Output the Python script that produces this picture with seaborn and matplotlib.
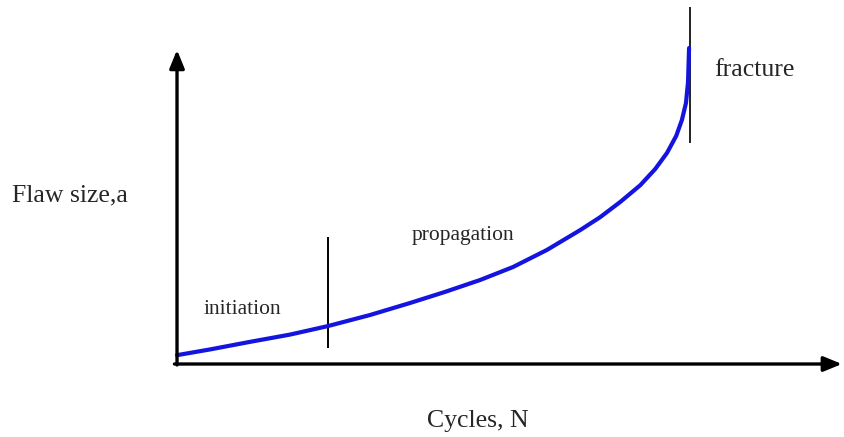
import numpy as np
import pandas as pd
import matplotlib
matplotlib.use("Agg")
import matplotlib.pyplot as plt
import seaborn as sns

# crack growth curve, cycles (normalised so fracture = 1) vs flaw size
cycles = [0.000, 0.064, 0.142, 0.220, 0.294, 0.376, 0.454, 0.522, 0.591,
          0.655, 0.721, 0.786, 0.825, 0.864, 0.903, 0.932, 0.955, 0.973,
          0.984, 0.992, 0.996, 0.998]
flaw_size = [0.028, 0.046, 0.070, 0.093, 0.120, 0.155, 0.193, 0.228, 0.266,
             0.307, 0.361, 0.424, 0.465, 0.513, 0.566, 0.617, 0.668, 0.722,
             0.772, 0.826, 0.892, 1.000]

# stage boundaries
init_end = 0.294
init_span = (0.051, 0.403)
fracture_at = 0.999
fracture_span = (0.699, 1.130)

small_labels = {
    "initiation": (0.051, 0.174),
    "propagation": (0.458, 0.408),
}

sns.set_style("white")
plt.rcParams["font.family"] = ["Liberation Serif", "DejaVu Serif"]

fig = plt.figure(figsize=(8.44, 4.37), dpi=100)
ax = fig.add_axes([0, 0, 1, 1])
ax.set_xlim(-0.345, 1.300)
ax.set_ylim(-0.231, 1.152)
ax.axis("off")

df = pd.DataFrame({"N": cycles, "a": flaw_size})
sns.lineplot(data=df, x="N", y="a", sort=False, estimator=None,
             color="#1414e0", lw=3.0, ax=ax, zorder=3,
             solid_joinstyle="round", solid_capstyle="round")

ax.vlines(init_end, *init_span, color="black", lw=1.4)
ax.vlines(fracture_at, *fracture_span, color="#222222", lw=1.4, zorder=2)

# axes with arrow heads
arrow = dict(arrowstyle="-|>,head_length=1.1,head_width=0.45", color="black",
             lw=2.4, shrinkA=0, shrinkB=0)
ax.annotate("", xy=(0, 0.994), xytext=(0, -0.003), arrowprops=arrow)
ax.annotate("", xy=(1.296, 0), xytext=(-0.005, 0), arrowprops=arrow)

big = 18.5
small = 15.5
ax.text(-0.322, 0.535, "Flaw size,a", fontsize=big, ha="left", va="center")
ax.text(1.047, 0.930, "fracture", fontsize=big, ha="left", va="center")
ax.text(0.587, -0.180, "Cycles, N", fontsize=big, ha="center", va="center")
for name, (x, y) in small_labels.items():
    ax.text(x, y, name, fontsize=small, ha="left", va="center")

fig.savefig("out.png", dpi=100)
